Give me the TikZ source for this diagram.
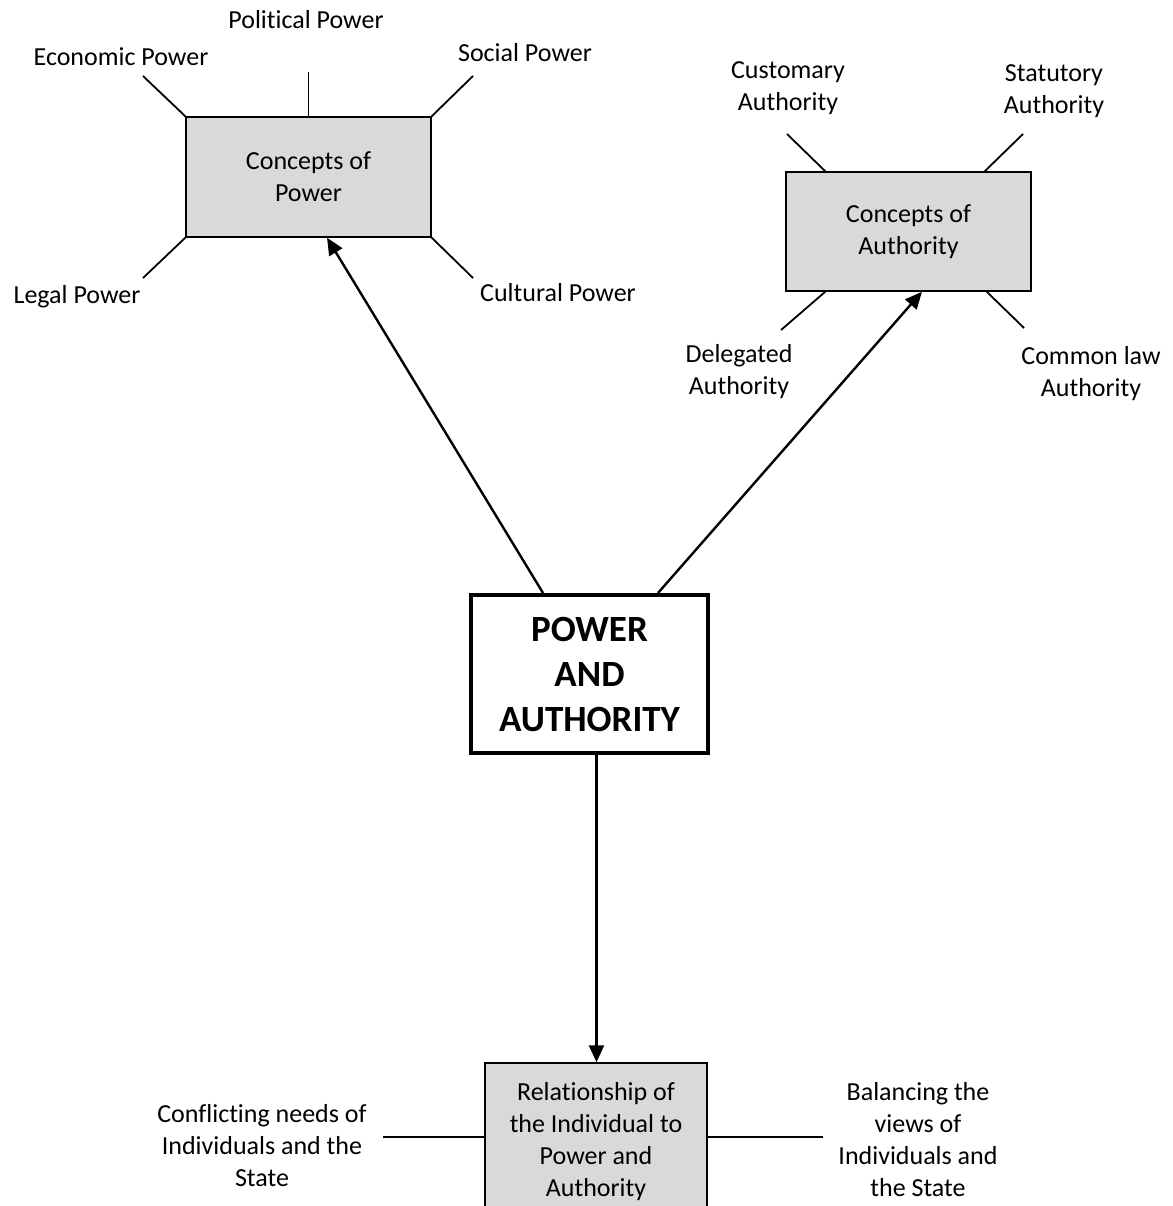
\documentclass[tikz,border=0pt]{standalone}
\usepackage{fontspec}
\setmainfont{Carlito}[Ligatures=NoCommon]
\usetikzlibrary{arrows.meta}
\definecolor{boxgrey}{HTML}{D9D9D9}
\begin{document}
\begin{tikzpicture}[x=1pt,y=-1pt,
  lbl/.style={align=center,font=\fontsize{26}{32}\selectfont,inner sep=0pt},
  greybox/.style={draw=black,line width=1.5pt,fill=boxgrey,align=center,
    font=\fontsize{26}{32}\selectfont,inner sep=0pt},
  mainbox/.style={draw=black,line width=4pt,fill=white,align=center,
    font=\fontsize{37}{45}\selectfont\bfseries,inner sep=0pt},
  spoke/.style={line width=1.8pt},
  arr/.style={line width=2.4pt,-{Triangle[length=17pt,width=15pt]}}]
  % page frame
  \path[use as bounding box] (0,0) rectangle (1172,1206);
  \clip (0,0) rectangle (1172,1206);
  \fill[white] (0,0) rectangle (1172,1206);

  % boxes
  \node[greybox,minimum width=245pt,minimum height=120pt] (pw) at (308.5,177) {Concepts of\\Power};
  \node[greybox,minimum width=245pt,minimum height=119pt] (ca) at (908.5,231.5) {Concepts of\\Authority};
  \node[mainbox,minimum width=237pt,minimum height=158pt] (pa) at (589.5,674) {POWER\\AND\\AUTHORITY};
  \node[greybox,minimum width=222pt,minimum height=157pt] (ri) at (596,1141.5) {Relationship of\\the Individual to\\Power and\\Authority};

  % labels
  \node[lbl] (econ) at (121,57) {Economic Power};
  \node[lbl] (poli) at (306,20) {Political Power};
  \node[lbl] (soci) at (525,53) {Social Power};
  \node[lbl] (lega) at (77,297) {Legal Power};
  \node[lbl] (cult) at (558,293) {Cultural Power};
  \node[lbl] (cust) at (788,88) {Customary\\Authority};
  \node[lbl] (stat) at (1054,91) {Statutory\\Authority};
  \node[lbl] (dele) at (739,372) {Delegated\\Authority};
  \node[lbl] (comm) at (1091,374) {Common law\\Authority};
  \node[lbl] (conf) at (262,1146) {Conflicting needs of\\Individuals and the\\State};
  \node[lbl] (bala) at (918,1140) {Balancing the\\views of\\Individuals and\\the State};

  % spoke ends
  \coordinate (econE) at (143,76);
  \coordinate (poliE) at (308.5,72);
  \coordinate (sociE) at (473,76);
  \coordinate (legaE) at (143,278);
  \coordinate (cultE) at (473,278);
  \coordinate (custE) at (787,134);
  \coordinate (statE) at (1023,134);
  \coordinate (deleE) at (781,330);
  \coordinate (commE) at (1024,328);
  \coordinate (confE) at (383,1137);
  \coordinate (balaE) at (823,1137);

  % spokes around the power box
  \draw[spoke] (pw.north west) -- (econE);
  \draw[spoke] (pw.north) -- (poliE);
  \draw[spoke] (pw.north east) -- (sociE);
  \draw[spoke] (pw.south west) -- (legaE);
  \draw[spoke] (pw.south east) -- (cultE);

  % spokes around the authority box
  \draw[spoke] ([xshift=40pt]ca.north west) -- (custE);
  \draw[spoke] ([xshift=-47pt]ca.north east) -- (statE);
  \draw[spoke] ([xshift=40pt]ca.south west) -- (deleE);
  \draw[spoke] ([xshift=-45pt]ca.south east) -- (commE);

  % spokes beside the bottom box
  \draw[spoke] ([yshift=4.5pt]ri.west) -- (confE);
  \draw[spoke] ([yshift=4.5pt]ri.east) -- (balaE);

  % arrows from the central box
  \draw[arr] ([xshift=-46.5pt]pa.north) -- ([xshift=18.5pt]pw.south);
  \draw[arr] ([xshift=68.5pt]pa.north) -- ([xshift=13.5pt]ca.south);
  \draw[arr] ([xshift=7pt]pa.south) -- ([xshift=0.5pt]ri.north);
\end{tikzpicture}
\end{document}
